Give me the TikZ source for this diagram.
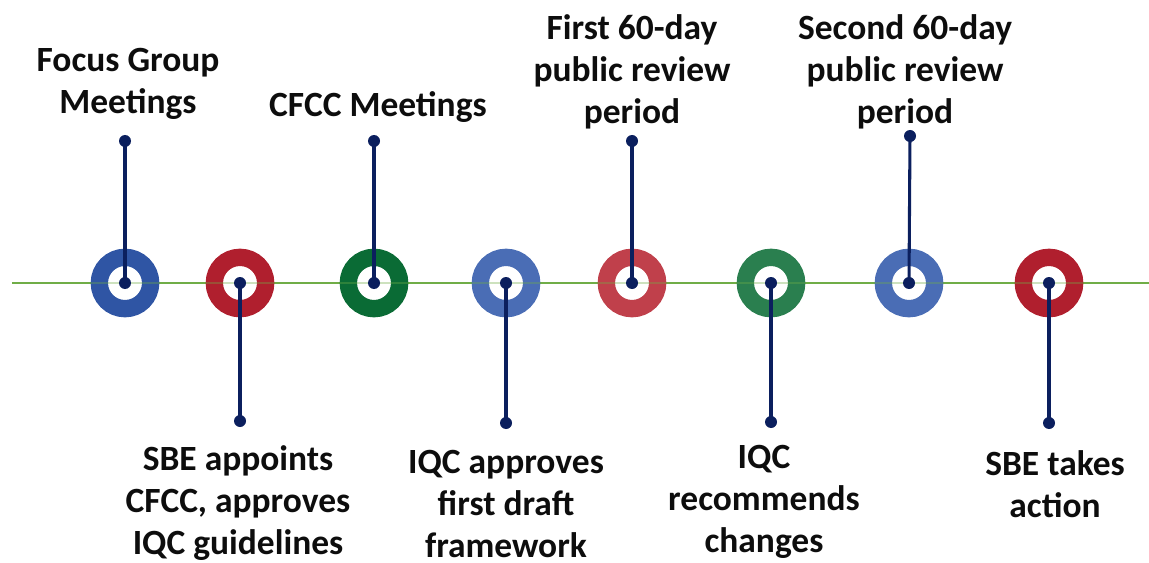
\documentclass[tikz,border=0pt]{standalone}
\usepackage{fontspec}
\setmainfont{Carlito}
\definecolor{navy}{HTML}{0B1F5E}
\definecolor{tlgreen}{HTML}{70AD47}
\definecolor{cblue}{HTML}{2F55A4}
\definecolor{cblueb}{HTML}{4A6DB5}
\definecolor{cred}{HTML}{B01F2E}
\definecolor{credb}{HTML}{C0404B}
\definecolor{cgreen}{HTML}{0A6B35}
\definecolor{cgreenb}{HTML}{2A7F4F}
\begin{document}
\begin{tikzpicture}[x=0.75pt,y=-0.75pt,
  ring/.style={circle,draw=#1,line width=13pt,minimum size=38.5pt,inner sep=0pt,fill=white},
  pin/.style={draw=navy,line width=2.3pt},
  dot/.style={circle,fill=navy,inner sep=0pt,minimum size=9pt},
  lbl/.style={font=\bfseries\fontsize{26.6}{31.5}\selectfont,text=black!95,align=center,inner sep=0pt}]
\useasboundingbox (0,0) rectangle (1149,563);
\coordinate (L) at (12,283);
\coordinate (R) at (1149,283);
\draw[tlgreen,line width=1.7pt] (L) -- (R);
% rings
\node[ring=cblue] (c1) at (125,283) {};
\node[ring=cred] (c2) at (240,283) {};
\node[ring=cgreen] (c3) at (374,283) {};
\node[ring=cblueb] (c4) at (506,283) {};
\node[ring=credb] (c5) at (632,283) {};
\node[ring=cgreenb] (c6) at (771,283) {};
\node[ring=cblueb] (c7) at (909,283) {};
\node[ring=cred] (c8) at (1049,283) {};
\draw[tlgreen,line width=1.7pt,opacity=0.35] (L) -- (R);
% end dots
\node[dot] (t1) at (125,141) {};
\node[dot] (b2) at (240,421) {};
\node[dot] (t3) at (374,141) {};
\node[dot] (b4) at (506,423) {};
\node[dot] (t5) at (632,141) {};
\node[dot] (b6) at (771,422) {};
\node[dot] (t7) at (910,136) {};
\node[dot] (b8) at (1049,423) {};
% center dots
\foreach \i in {1,...,8} {\node[dot] (d\i) at (c\i.center) {};}
\draw[pin] (d1.center) -- (t1.center);
\draw[pin] (d2.center) -- (b2.center);
\draw[pin] (d3.center) -- (t3.center);
\draw[pin] (d4.center) -- (b4.center);
\draw[pin] (d5.center) -- (t5.center);
\draw[pin] (d6.center) -- (b6.center);
\draw[pin] (d7.center) -- (t7.center);
\draw[pin] (d8.center) -- (b8.center);
% labels
\node[lbl] (l1) at (128,84) {Focus Group\\Meetings};
\node[lbl] (l3) at (378,107) {CFCC Meetings};
\node[lbl] (l5) at (632,72) {First 60-day\\public review\\period};
\node[lbl] (l7) at (905,72) {Second 60-day\\public review\\period};
\node[lbl] (l2) at (238,503) {SBE appoints\\CFCC, approves\\IQC guidelines};
\node[lbl] (l4) at (506,504) {IQC approves\\first draft\\framework};
\node[lbl] (l6) at (764,502) {IQC\\recommends\\changes};
\node[lbl] (l8) at (1055,484) {SBE takes\\action};
\end{tikzpicture}
\end{document}
